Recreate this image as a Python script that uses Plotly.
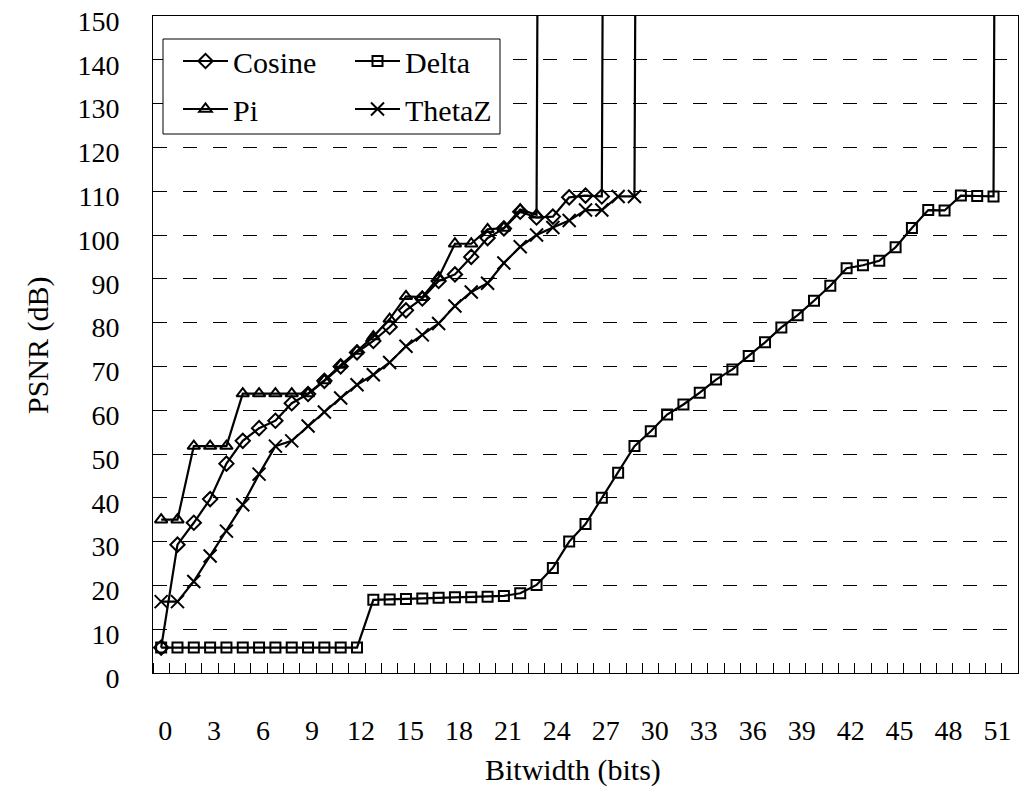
import plotly.graph_objects as go

# ---------------- data ----------------
bitwidth = list(range(53))                       # categories 0..52
x_tick_labels = [str(v) for v in range(0, 52, 3)]
y_tick_values = list(range(0, 151, 10))

INF_PSNR = 1000.0   # lossless -> off the top of the chart

cosine = [5.8, 29.3, 34.3, 39.7, 47.8, 53.0, 55.9, 57.6, 61.6, 63.7,
          66.7, 70.0, 73.2, 75.8, 79.0, 82.8, 85.5, 89.5, 91.0, 95.0,
          99.3, 101.5, 105.3, 104.0, 104.2, 108.6, 109.0, 108.8, INF_PSNR]

delta = [5.8] * 13 + [16.7, 16.8, 16.9, 17.0, 17.2, 17.3, 17.3, 17.4, 17.6, 18.2,
                      20.1, 24.0, 30.0, 34.0, 40.0, 45.7, 51.8, 55.2, 59.0, 61.3,
                      64.0, 67.0, 69.3, 72.4, 75.5, 78.9, 81.7, 85.0, 88.4, 92.4,
                      93.1, 94.1, 97.2, 101.6, 105.7, 105.6, 109.0, 108.9, 108.8,
                      INF_PSNR]

pi = [35.0, 35.0, 51.8, 51.8, 51.8, 63.8, 63.8, 63.8, 63.8, 63.8,
      66.8, 70.3, 73.5, 76.8, 80.8, 86.0, 85.8, 90.3, 98.0, 98.0,
      101.3, 101.6, 105.8, 104.6, INF_PSNR]

thetaz = [16.3, 16.3, 20.9, 26.7, 32.4, 38.4, 45.4, 51.8, 53.0, 56.4,
          59.6, 62.8, 65.8, 68.1, 70.9, 74.6, 77.2, 79.8, 83.8, 87.0,
          89.0, 93.6, 97.3, 100.0, 101.7, 103.3, 105.7, 105.7, 108.8, 108.8,
          INF_PSNR]

series = [
    ("Cosine", cosine, "diamond-open", 11, "legend"),
    ("Delta", delta, "square-open", 10, "legend2"),
    ("Pi", pi, "triangle-up-open", 11, "legend"),
    ("ThetaZ", thetaz, "x-thin-open", 13, "legend2"),
]

# ---------------- layout geometry (pixels) ----------------
W, H = 1027, 811
L, R, T, B = 153, 1018, 16, 673
pw, ph = R - L, B - T


def px_x(p):
    return (p - L) / pw


def px_y(p):
    return (B - p) / ph


FONT = "Liberation Serif, Times New Roman, serif"

fig = go.Figure()
for name, vals, sym, size, leg in series:
    fig.add_trace(go.Scatter(
        x=bitwidth[:len(vals)], y=vals, name=name, mode="lines+markers",
        line=dict(color="black", width=2.2),
        marker=dict(symbol=sym, size=size, color="black",
                    line=dict(color="black", width=2)),
        legend=leg, legendgroup=name,
    ))

legend_common = dict(xanchor="left", yanchor="top", bgcolor="rgba(0,0,0,0)",
                     borderwidth=0, font=dict(family=FONT, size=30),
                     tracegroupgap=6, itemwidth=45, traceorder="grouped")

fig.update_layout(
    width=W, height=H,
    margin=dict(l=L, r=W - R, t=T, b=H - B, autoexpand=False),
    paper_bgcolor="white", plot_bgcolor="white",
    font=dict(family=FONT, color="black", size=28),
    legend=dict(x=px_x(178), y=px_y(35), **legend_common),
    legend2=dict(x=px_x(350), y=px_y(35), **legend_common),
    xaxis=dict(
        range=[-0.5, 52.5], tickmode="array",
        tickvals=list(range(0, 52, 3)), ticktext=x_tick_labels,
        ticks="", showgrid=False, zeroline=False,
        showline=True, linecolor="black", linewidth=1, mirror=True,
        ticklabelstandoff=32, ticklabelshift=4,
        tickfont=dict(family=FONT, size=28),
        minor=dict(tickmode="linear", tick0=-0.5, dtick=1, ticks="inside",
                   ticklen=10, tickcolor="black", tickwidth=1, showgrid=False),
    ),
    yaxis=dict(
        range=[0, 150], tickmode="array", tickvals=y_tick_values,
        ticks="", showgrid=True, gridcolor="black", gridwidth=1,
        griddash="14px,16px", zeroline=False,
        showline=True, linecolor="black", linewidth=1, mirror=True,
        ticklabelstandoff=27, ticklabelshift=5,
        tickfont=dict(family=FONT, size=28),
    ),
    shapes=[dict(type="rect", xref="paper", yref="paper",
                 x0=px_x(163), x1=px_x(500), y0=px_y(134), y1=px_y(39),
                 line=dict(color="black", width=1), fillcolor="white",
                 layer="above")],
    annotations=[
        dict(text="PSNR (dB)", xref="paper", yref="paper",
             x=px_x(38), y=px_y(345), showarrow=False, textangle=-90,
             font=dict(family=FONT, size=30), xanchor="center", yanchor="middle"),
        dict(text="Bitwidth (bits)", xref="paper", yref="paper",
             x=px_x(573), y=px_y(770), showarrow=False,
             font=dict(family=FONT, size=30), xanchor="center", yanchor="middle"),
    ],
)

fig.write_html("out.html",
               config={"displayModeBar": False},
               post_script="document.body.style.margin='0';"
                           "document.body.style.overflow='hidden';")
